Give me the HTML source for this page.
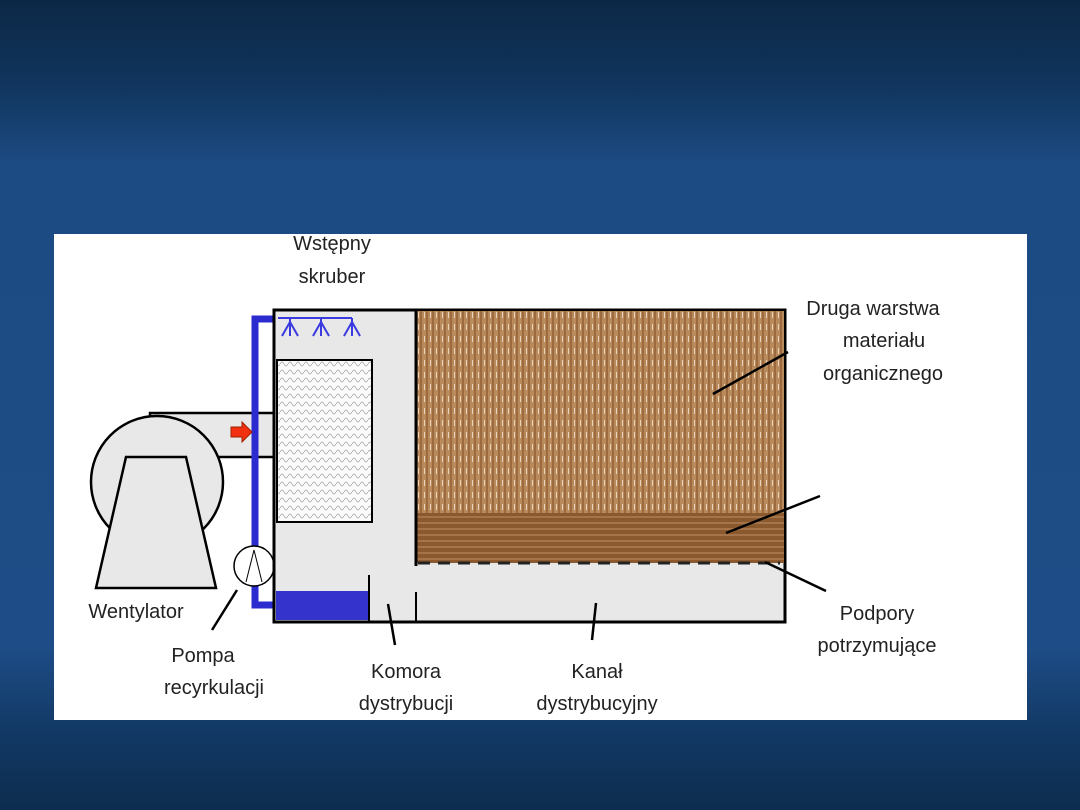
<!DOCTYPE html>
<html><head><meta charset="utf-8"><style>
body{margin:0;width:1080px;height:810px;overflow:hidden;background:#1d4a80}
svg{display:block}
text{font-family:"Liberation Sans",sans-serif;font-size:20px;fill:#222}
</style></head><body>
<svg width="1080" height="810" viewBox="0 0 1080 810">
<defs>
<linearGradient id="bg" x1="0" y1="0" x2="0" y2="1">
<stop offset="0" stop-color="#0c2846"/><stop offset="0.1" stop-color="#10345c"/>
<stop offset="0.2" stop-color="#1c4a82"/><stop offset="0.8" stop-color="#1e4c86"/>
<stop offset="0.9" stop-color="#123a66"/><stop offset="1" stop-color="#0d2c4e"/>
</linearGradient>
<pattern id="vert" width="6" height="12" patternUnits="userSpaceOnUse">
<rect width="6" height="12" fill="#b98a5c"/><rect x="0" width="2" height="12" fill="#9b6a3e"/><rect x="4" y="0" width="1" height="6" fill="#e8d2b8"/>
</pattern>
<pattern id="hor" width="8" height="6" patternUnits="userSpaceOnUse">
<rect width="8" height="6" fill="#8a5a2e"/><rect y="0" width="8" height="2" fill="#a5744a"/>
</pattern>
<pattern id="mesh" width="8" height="8" patternUnits="userSpaceOnUse">
<rect width="8" height="8" fill="#fafafa"/><path d="M0 4 Q2 0 4 4 T8 4" stroke="#aaa" fill="none" stroke-width="0.8"/>
</pattern>
</defs>
<rect width="1080" height="810" fill="url(#bg)"/>
<rect x="54" y="234" width="973" height="486" fill="#fff"/>
<!-- duct and fan -->
<rect x="150" y="413" width="124" height="44" fill="#e8e8e8" stroke="#000" stroke-width="2.5"/>
<circle cx="157" cy="482" r="66" fill="#e8e8e8" stroke="#000" stroke-width="2.5"/>
<polygon points="126,457 186,457 216,588 96,588" fill="#e8e8e8" stroke="#000" stroke-width="2.5"/>
<!-- pipe -->
<path d="M274 319 H255 V605 H274" fill="none" stroke="#2b2bd0" stroke-width="7"/>
<polygon points="231,427 242,427 242,422 252,432 242,442 242,437 231,437" fill="#f03010" stroke="#a02000"/>
<circle cx="254" cy="566" r="20" fill="#fff" stroke="#000" stroke-width="1.5"/>
<path d="M246 582 L254 550 L262 582" fill="none" stroke="#000" stroke-width="1"/>
<!-- main box -->
<rect x="274" y="310" width="511" height="312" fill="#e8e8e8" stroke="#000" stroke-width="3"/>
<rect x="416" y="311" width="368" height="203" fill="url(#vert)"/>
<rect x="416" y="513" width="368" height="50" fill="url(#hor)"/>
<line x1="416" y1="310" x2="416" y2="566" stroke="#000" stroke-width="3"/>
<line x1="418" y1="563" x2="780" y2="563" stroke="#222" stroke-width="3" stroke-dasharray="12,8"/>
<rect x="277" y="360" width="95" height="162" fill="url(#mesh)" stroke="#000" stroke-width="2"/>
<rect x="276" y="591" width="93" height="29" fill="#3434cc"/>
<line x1="369" y1="575" x2="369" y2="622" stroke="#000" stroke-width="2"/>
<line x1="416" y1="592" x2="416" y2="622" stroke="#000" stroke-width="2"/>
<!-- sprays -->
<g stroke="#3a3ae0" stroke-width="2" fill="none">
<line x1="278" y1="318" x2="352" y2="318"/>
<path d="M290 318 V336 M290 322 L282 336 M290 322 L298 336"/>
<path d="M321 318 V336 M321 322 L313 336 M321 322 L329 336"/>
<path d="M352 318 V336 M352 322 L344 336 M352 322 L360 336"/>
</g>
<!-- leaders -->
<g stroke="#000" stroke-width="2.5">
<line x1="788" y1="352" x2="713" y2="394"/>
<line x1="820" y1="496" x2="726" y2="533"/>
<line x1="765" y1="562" x2="826" y2="591"/>
<line x1="237" y1="590" x2="212" y2="630"/>
<line x1="388" y1="604" x2="395" y2="645"/>
<line x1="596" y1="603" x2="592" y2="640"/>
</g>
<text x="332" y="250" text-anchor="middle">Wstępny</text>
<text x="332" y="283" text-anchor="middle">skruber</text>
<text x="873" y="315" text-anchor="middle">Druga warstwa</text>
<text x="884" y="347" text-anchor="middle">materiału</text>
<text x="883" y="380" text-anchor="middle">organicznego</text>
<text x="136" y="618" text-anchor="middle">Wentylator</text>
<text x="203" y="662" text-anchor="middle">Pompa</text>
<text x="214" y="694" text-anchor="middle">recyrkulacji</text>
<text x="406" y="678" text-anchor="middle">Komora</text>
<text x="406" y="710" text-anchor="middle">dystrybucji</text>
<text x="597" y="678" text-anchor="middle">Kanał</text>
<text x="597" y="710" text-anchor="middle">dystrybucyjny</text>
<text x="877" y="620" text-anchor="middle">Podpory</text>
<text x="877" y="652" text-anchor="middle">potrzymujące</text>
</svg>
</body></html>
